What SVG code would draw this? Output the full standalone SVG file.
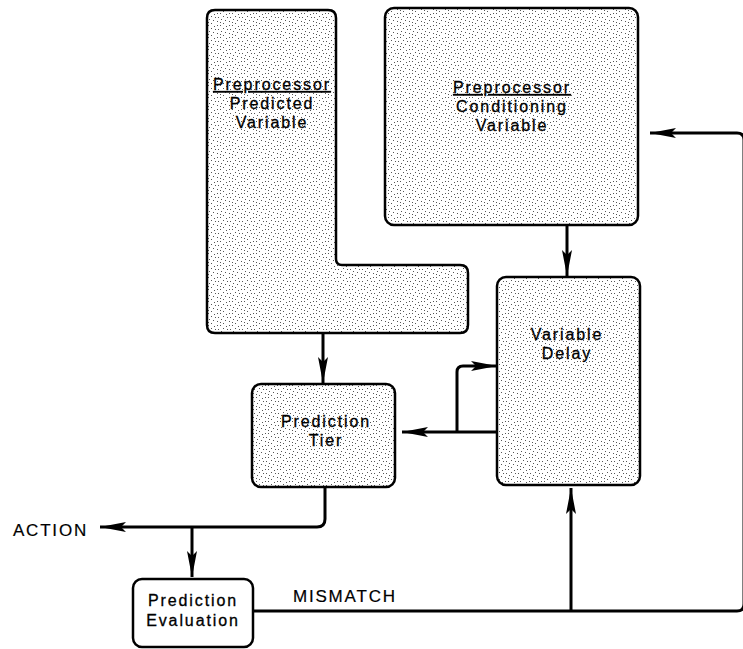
<svg xmlns="http://www.w3.org/2000/svg" width="743" height="649" viewBox="0 0 743 649">
<defs>
<pattern id="stip" width="12" height="12" patternUnits="userSpaceOnUse">
<rect width="12" height="12" fill="#fff"/>
<g fill="#555">
<rect x="1" y="1" width="1" height="1"/><rect x="4" y="1" width="1" height="1"/><rect x="7" y="4" width="1" height="1"/>
<rect x="10" y="2" width="1" height="1"/><rect x="2" y="5" width="1" height="1"/><rect x="5" y="7" width="1" height="1"/>
<rect x="9" y="8" width="1" height="1"/><rect x="1" y="9" width="1" height="1"/><rect x="4" y="10" width="1" height="1"/>
<rect x="7" y="11" width="1" height="1"/><rect x="11" y="5" width="1" height="1"/>
</g>
</pattern>
<marker id="ah" viewBox="0 0 26 12" refX="26" refY="6" markerWidth="26" markerHeight="12" markerUnits="userSpaceOnUse" orient="auto">
<path d="M0,1 L26,6 L0,11 L5,6 z" fill="#000"/>
</marker>
</defs>
<style>
.box{fill:url(#stip);stroke:#000;stroke-width:2.5}
.plain{fill:#fff;stroke:#000;stroke-width:2.5}
.t{font-family:"Liberation Sans",Arial,sans-serif;font-size:16px;letter-spacing:1.9px;text-anchor:middle;fill:#000;stroke:#000;stroke-width:0.3}
.lbl{font-family:"Liberation Sans",Arial,sans-serif;font-size:17px;letter-spacing:1.8px;fill:#000;stroke:#000;stroke-width:0.2}
.c{fill:none;stroke:#000;stroke-width:3}
</style>

<g id="pp-predicted">
<path class="box" d="M215,10 H328 Q336,10 336,18 V259 Q336,265 342,265 H460 Q468,265 468,273 V325 Q468,333 460,333 H215 Q207,333 207,325 V18 Q207,10 215,10 z"/>
<text class="t" x="272" y="90" text-decoration="underline">Preprocessor</text>
<text class="t" x="272" y="109">Predicted</text>
<text class="t" x="272" y="128">Variable</text>
</g>

<g id="pp-conditioning">
<rect class="box" x="385" y="8" width="253" height="217" rx="9"/>
<text class="t" x="512" y="93" text-decoration="underline">Preprocessor</text>
<text class="t" x="512" y="112">Conditioning</text>
<text class="t" x="512" y="131">Variable</text>
</g>

<g id="variable-delay">
<rect class="box" x="497" y="277" width="143" height="208" rx="9"/>
<text class="t" x="567" y="340">Variable</text>
<text class="t" x="567" y="359">Delay</text>
</g>

<g id="prediction-tier">
<rect class="box" x="252" y="384" width="143" height="103" rx="9"/>
<text class="t" x="326" y="427">Prediction</text>
<text class="t" x="326" y="446">Tier</text>
</g>

<g id="prediction-evaluation">
<rect class="plain" x="133" y="579" width="120" height="68" rx="9"/>
<text class="t" x="193" y="606">Prediction</text>
<text class="t" x="193" y="626">Evaluation</text>
</g>

<g id="connectors">
<path class="c" d="M323,334 V383" marker-end="url(#ah)"/>
<path class="c" d="M567,226 V276" marker-end="url(#ah)"/>
<path class="c" d="M497,432 H402" marker-end="url(#ah)"/>
<path class="c" d="M457,432 V372 Q457,366 463,366 H497" marker-end="url(#ah)"/>
<path class="c" d="M325,488 V519 Q325,527 317,527 H100" marker-end="url(#ah)"/>
<path class="c" d="M192,527 V577" marker-end="url(#ah)"/>
<path class="c" d="M253,611 H737 Q744,611 744,604 V140 Q744,133 737,133 H650" marker-end="url(#ah)"/>
<path class="c" d="M571,611 V488" marker-end="url(#ah)"/>
</g>

<text class="lbl" x="88" y="536" text-anchor="end">ACTION</text>
<text class="lbl" x="293" y="602">MISMATCH</text>
</svg>
